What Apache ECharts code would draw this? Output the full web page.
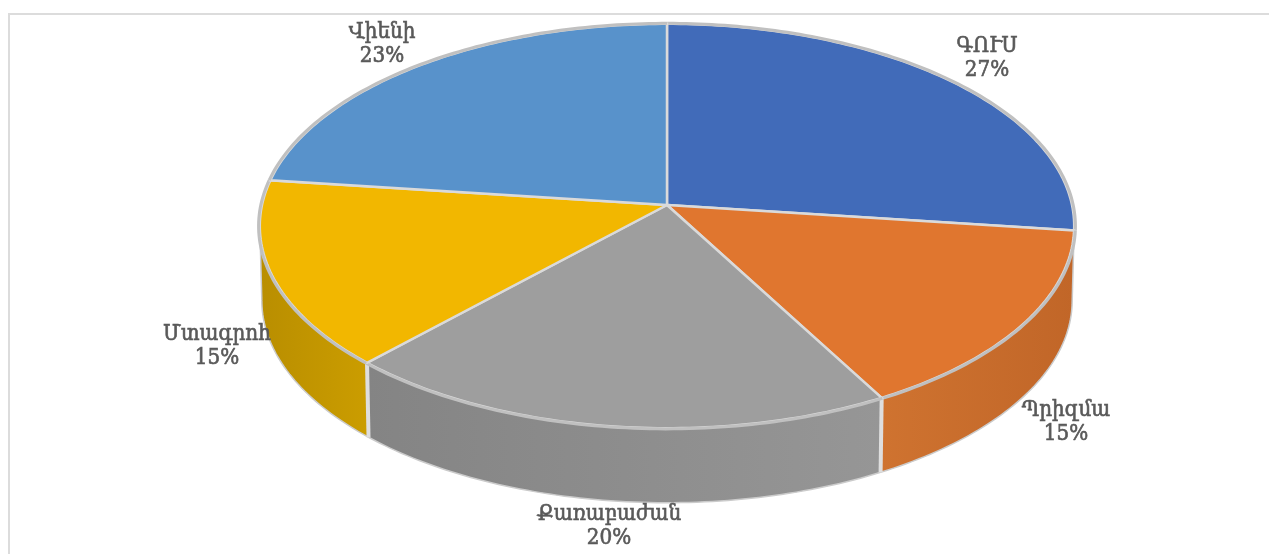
<!DOCTYPE html>
<html>
<head>
<meta charset="utf-8">
<style>
    html, body { margin: 0; padding: 0; background: #fff; }
    #js_pie { width: 1269px; height: 554px; }
</style>
<script src="https://cdn.jsdelivr.net/npm/echarts@6/dist/echarts.min.js"></script>
</head>
<body>
<div id="js_pie"></div>
<script>
var categories = ['ԳՈՒՍ', 'Պրիզմա', 'Քառաբաժան', 'Մտագրոհ', 'Վիենի'];
var shares = [27, 15, 20, 15, 23];

var topColors = ['#416bb9', '#e0762f', '#9e9e9e', '#f2b700', '#5892cb'];
// side wall shading, left to right; back slices have no visible wall
var wallColors = [null, ['#cf7330', '#c16628'], ['#848484', '#969696'], ['#b98e00', '#cb9d00'], null];
// label centres
var labelSpots = [[987, 58], [1066, 422], [609, 526], [217, 346], [382, 44]];

// tilted disc: apex, radii, perspective and thickness of the pie
var cx = 667, cy = 205, rx = 405, ry = 200, persp = 0.104, depth = 74.5, shrink = 0.995;
// the wall is only seen between these two angles of the rim
var wallFrom = 96, wallTo = 264;

function project(deg, grow) {
    var a = deg * Math.PI / 180;
    var X = Math.sin(a), Y = Math.cos(a);
    var w = (grow || 1) / (1 + persp * Y);
    return [cx + rx * X * w, cy - ry * Y * w];
}

function lower(p) {
    return [cx + (p[0] - cx) * shrink, p[1] + depth];
}

function sweep(index) {
    var total = 0, before = 0;
    for (var i = 0; i < shares.length; i++) {
        total += shares[i];
        if (i < index) before += shares[i];
    }
    return [before / total * 360, (before + shares[index]) / total * 360];
}

function rim(from, to, grow) {
    var pts = [];
    for (var d = from; d < to; d += 1) pts.push(project(d, grow));
    pts.push(project(to, grow));
    return pts;
}

function renderWall(params, api) {
    var i = params.dataIndex;
    if (!wallColors[i]) return null;
    var s = sweep(i);
    var top = rim(Math.max(s[0], wallFrom), Math.min(s[1], wallTo));
    var bottom = top.map(lower);
    var children = [{
        type: 'polygon',
        shape: { points: top.concat(bottom.slice().reverse()) },
        style: {
            fill: new echarts.graphic.LinearGradient(0, 0, 1, 0, [
                { offset: 0, color: wallColors[i][0] },
                { offset: 1, color: wallColors[i][1] }
            ]),
            stroke: null
        }
    }, {
        type: 'polyline',
        shape: { points: bottom },
        style: { fill: null, stroke: '#cbcbcb', lineWidth: 1.5 }
    }];
    children.push({
        type: 'line',
        shape: { x1: top[0][0], y1: top[0][1], x2: bottom[0][0], y2: bottom[0][1] },
        // the orange wall starts on the silhouette, so only a thin edge there
        style: i === 1 ? { stroke: '#cbcbcb', lineWidth: 1.5 } : { stroke: '#dedede', lineWidth: 4 }
    });
    if (i === 3) {
        // left silhouette of the yellow wall
        var last = top.length - 1;
        children.push({
            type: 'line',
            shape: { x1: top[last][0], y1: top[last][1], x2: bottom[last][0], y2: bottom[last][1] },
            style: { stroke: '#cbcbcb', lineWidth: 1.5 }
        });
    }
    return { type: 'group', children: children };
}

function renderTop(params, api) {
    var i = params.dataIndex;
    var s = sweep(i);
    return {
        type: 'group',
        children: [{
            type: 'polygon',
            shape: { points: [[cx, cy]].concat(rim(s[0], s[1])) },
            style: { fill: topColors[i], stroke: '#dadada', lineWidth: 2.5 }
        }, {
            type: 'polyline',
            shape: { points: rim(s[0], s[1], 1.003) },
            style: { fill: null, stroke: '#c0c0c0', lineWidth: 3 }
        }]
    };
}

function renderLabel(params, api) {
    var i = params.dataIndex;
    return {
        type: 'text',
        x: labelSpots[i][0],
        y: labelSpots[i][1],
        scaleY: 1.15,
        style: {
            text: categories[i] + '\n' + api.value(0) + '%',
            x: 0,
            y: 0,
            align: 'center',
            verticalAlign: 'middle',
            lineHeight: 21,
            fill: '#595959',
            stroke: '#595959',
            lineWidth: 0.6,
            font: '20px "DejaVu Serif"'
        }
    };
}

var pie = echarts.init(document.getElementById('js_pie'));
var option = {
    animation: false,
    backgroundColor: '#fff',
    graphic: [{
        type: 'rect',
        silent: true,
        shape: { x: 9, y: 14, width: 1400, height: 700 },
        style: { fill: null, stroke: '#dcdcdc', lineWidth: 2 }
    }],
    series: [
        { type: 'custom', name: 'wall', coordinateSystem: 'none', z: 2, data: shares, renderItem: renderWall },
        { type: 'custom', name: 'top', coordinateSystem: 'none', z: 3, data: shares, renderItem: renderTop },
        { type: 'custom', name: 'label', coordinateSystem: 'none', z: 4, data: shares, renderItem: renderLabel }
    ]
};
pie.setOption(option);
</script>
</body>
</html>
